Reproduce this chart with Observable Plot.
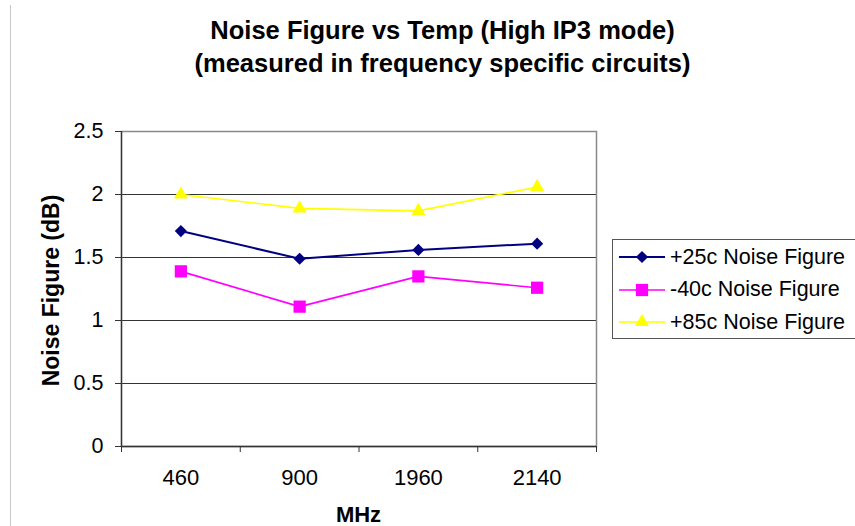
<!DOCTYPE html>
<html>
<head>
<meta charset="utf-8">
<script src="https://cdn.jsdelivr.net/npm/d3@7"></script>
<script src="https://cdn.jsdelivr.net/npm/@observablehq/plot@0.6"></script>
<style>
  html, body { margin: 0; padding: 0; background: #fff; }
  body { width: 855px; height: 526px; overflow: hidden; font-family: "Liberation Sans", Arial, sans-serif; color: #000; }
  #wrap { position: relative; width: 855px; height: 526px; overflow: hidden; }
  #pageline { position: absolute; left: 10px; top: 5px; width: 0; height: 530px; border-left: 1px solid #c8c8c8; }
  .title { position: absolute; left: 0; width: 885px; text-align: center; font-weight: bold; font-size: 25.5px; line-height: 26px; white-space: nowrap; }
  .axlabel { position: absolute; font-weight: bold; font-size: 22px; line-height: 22px; text-align: center; white-space: nowrap; }
  #legend { position: absolute; left: 612px; top: 239px; width: 250px; height: 97px; border: 1px solid #555; background: #fff; padding-top: 1px; box-sizing: content-box; }
  .lrow { display: flex; align-items: center; height: 32.5px; font-size: 21.5px; white-space: nowrap; }
  .lrow svg { flex: none; margin-left: 5px; margin-right: 4px; }
  #chart { position: absolute; left: 0; top: 0; }
</style>
</head>
<body>
<div id="wrap">
  <div id="pageline"></div>
  <div id="chart"></div>
  <div class="title" id="t1" style="top:17px"></div>
  <div class="title" id="t2" style="top:50px"></div>
  <div class="axlabel" id="xlab" style="left:258.5px;width:200px;top:504px"></div>
  <div class="axlabel" id="ylab" style="left:-99px;width:300px;top:279px;height:23px;line-height:23px;font-size:23px;transform:rotate(-90deg);transform-origin:150px 11.5px"></div>
  <div id="legend"></div>
</div>
<script>
// ---- data ----
const titleLines = ["Noise Figure vs Temp (High IP3 mode)", "(measured in frequency specific circuits)"];
const xTitle = "MHz";
const yTitle = "Noise Figure (dB)";
const freqs = ["460", "900", "1960", "2140"];
const nf25 = [1.71, 1.49, 1.56, 1.61];
const nfMinus40 = [1.39, 1.11, 1.35, 1.26];
const nf85 = [2.00, 1.89, 1.87, 2.06];
const seriesNames = ["+25c Noise Figure", "-40c Noise Figure", "+85c Noise Figure"];
const yTicks = [0, 0.5, 1, 1.5, 2, 2.5];

// ---- styles ----
const seriesStyle = [
  { values: nf25, color: "#000080", symbol: "diamond2", r: 5.5, sw: 2 },
  { values: nfMinus40, color: "#ff00ff", symbol: "square", r: 6.9, sw: 1.6 },
  { values: nf85, color: "#ffff00", symbol: "triangle", r: 5.2, sw: 1.6 }
];

const rows = seriesStyle.map((s, k) =>
  s.values.map((v, i) => ({ series: seriesNames[k], idx: i + 0.5, freq: freqs[i], value: v }))
);

const boundaries = d3.range(freqs.length + 1);
const centers = freqs.map((f, i) => i + 0.5);

const seriesMarks = seriesStyle.flatMap((s, k) => [
  Plot.line(rows[k], { x: "idx", y: "value", stroke: s.color, strokeWidth: s.sw }),
  Plot.dot(rows[k], { x: "idx", y: "value", symbol: () => s.symbol, r: s.r, fill: s.color, stroke: "none" })
]);

const chart = Plot.plot({
  width: 855,
  height: 526,
  marginLeft: 121,
  marginRight: 259,
  marginTop: 131,
  marginBottom: 80,
  style: { fontFamily: "Liberation Sans, Arial, sans-serif", fontSize: "21.5px", color: "#000", background: "transparent", overflow: "visible" },
  x: { domain: [0, freqs.length], axis: null },
  y: { domain: [0, 2.5], axis: null },
  symbol: { type: "identity" },
  marks: [
    Plot.gridY(yTicks.filter(d => d > 0 && d < 2.5), { stroke: "#333", strokeOpacity: 1, strokeWidth: 1.2 }),
    Plot.frame({ stroke: "#8a8a8a", strokeWidth: 1.5 }),
    Plot.ruleX([0], { stroke: "#333", strokeWidth: 1.3 }),
    Plot.ruleY([0], { stroke: "#333", strokeWidth: 1.3 }),
    Plot.axisX(boundaries, { tickSize: 6, tickFormat: () => "", stroke: "#333", label: null }),
    Plot.axisX(centers, { tickSize: 0, tickPadding: 23, tickFormat: d => freqs[Math.floor(d)], label: null, fontSize: 22 }),
    Plot.axisY(yTicks, { tickSize: 6, tickPadding: 12, stroke: "#333", tickFormat: d => String(d), label: null, fontSize: 21.5 }),
    ...seriesMarks
  ]
});
document.getElementById("chart").appendChild(chart);

document.getElementById("t1").textContent = titleLines[0];
document.getElementById("t2").textContent = titleLines[1];
document.getElementById("xlab").textContent = xTitle;
document.getElementById("ylab").textContent = yTitle;

// ---- legend ----
const legend = document.getElementById("legend");
seriesStyle.forEach((s, k) => {
  const row = document.createElement("div");
  row.className = "lrow";
  const svg = d3.create("svg").attr("width", 48).attr("height", 20);
  svg.append("line").attr("x1", 1).attr("x2", 47).attr("y1", 10).attr("y2", 10)
    .attr("stroke", s.color).attr("stroke-width", s.sw);
  const symType = { diamond2: d3.symbolDiamond2, square: d3.symbolSquare, triangle: d3.symbolTriangle }[s.symbol];
  svg.append("path").attr("d", d3.symbol(symType, Math.PI * s.r * s.r)())
    .attr("transform", "translate(24,10)").attr("fill", s.color);
  row.appendChild(svg.node());
  const span = document.createElement("span");
  span.textContent = seriesNames[k];
  row.appendChild(span);
  legend.appendChild(row);
});
</script>
</body>
</html>
